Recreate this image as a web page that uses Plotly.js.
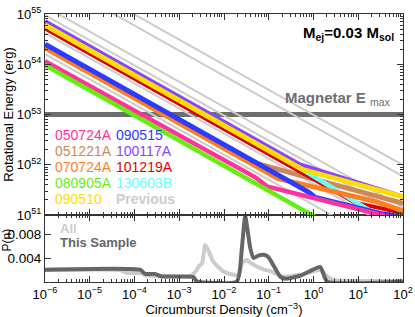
<!DOCTYPE html>
<html><head><meta charset="utf-8">
<script src="https://cdn.plot.ly/plotly-3.0.1.min.js"></script>
<style>html,body{margin:0;padding:0;background:#fff}#chart{width:415px;height:317px}</style>
</head><body><div id="chart"></div>
<script>
// ---- Top panel: rotational energy vs circumburst density (log10 values) ----
const grayLogN = [-6, 2];
const grayStartLogE = [55.99, 55.77, 55.15, 54.98, 54.62, 54.20];
const grayEndLogE   = [51.99, 51.77, 51.15, 50.98, 50.62, 50.20];

const n050724A = [-6, -1.30, -1.04, 1.42, 1.75];
const e050724A = [54.06, 51.75, 51.57, 51.03, 50.95];
const n051221A = [-6, -1.50, 2.0];
const e051221A = [54.33, 52.08, 51.23];
const n070724A = [-6, -0.79, 0.15, 1.42, 2.0];
const e070724A = [54.33, 51.725, 51.53, 51.26, 51.08];
const n080905A = [-6, 0.2];
const e080905A = [53.98, 50.88];
const n090510 = [-6, -0.25, 2.0];
const e090510 = [54.78, 51.905, 51.36];
const n090515 = [-6, -0.12, 0.04, 1.49, 1.9];
const e090515 = [54.40, 51.46, 51.35, 51.03, 50.97];
const n100117A = [-6, -0.30, 2.0];
const e100117A = [54.85, 52.00, 51.36];
const n101219A = [-6, 0.93, 2.0];
const e101219A = [54.71, 51.245, 51.04];
const n130603B = [-6, -0.25, 1.42, 1.6];
const e130603B = [54.78, 51.905, 51.0, 50.9];

const magnetarLogN = [-6, 2];
const magnetarLogE = [53, 53];

// ---- Bottom panel: P(n) ----
const allLogN = [-6, -4.32, -4.17, -3.85, -3.75, -2.76, -2.64, -2.555, -2.49, -2.42, -2.35, -2.24, -2.02, -1.79, -1.68, -1.59, -1.50, -1.37, -1.12, -0.92, -0.70, -0.30, 0.15, 0.31, 0.49, 2.0];
const allP    = [0.0020, 0.0020, 0.0015, 0.0015, 0.0011, 0.0010, 0.0017, 0.0027, 0.0031, 0.0062, 0.0053, 0.0034, 0.0018, 0.0012, 0.0011, 0.0032, 0.0037, 0.0030, 0.0021, 0.0017, 0.0009, 0.0012, 0.0020, 0.0009, 0.0003, 0.0002];
const sampleLogN = [-6, -3.875, -3.763, -3.539, -3.389, -2.682, -2.606, -1.711, -1.60, -1.526, -1.414, -1.34, -1.235, -1.116, -1.01, -0.743, -0.631, -0.295, 0.152, 0.302, 2.0];
const sampleP    = [0.00205, 0.00205, 0.00135, 0.00135, 0.00093, 0.00083, 0.0001, 0.0001, 0.0057, 0.0110, 0.0057, 0.0040, 0.0044, 0.00455, 0.0042, 0.0009, 0.00055, 0.00105, 0.0025, 0.0001, 0.0001];

const xTickExp = [-6, -5, -4, -3, -2, -1, 0, 1, 2];
const yTickExp = [51, 52, 53, 54, 55];
const pTicks = [0.004, 0.008];
const pTickText = ['0.004', '0.008'];

const legendNames = ['050724A','090515','051221A','100117A','070724A','101219A','080905A','130603B','090510','Previous'];

const pw = v => Math.pow(10, v);
const sup = e => '10<sup>' + (e < 0 ? '\u2212' + (-e) : e) + '</sup>';

const traces = [];
function addTop(nArr, eArr, color, width) {
  traces.push({x: nArr.map(pw), y: eArr.map(pw), xaxis: 'x2', yaxis: 'y2', mode: 'lines',
    line: {color: color, width: width}, hoverinfo: 'skip', showlegend: false});
}
addTop(magnetarLogN, magnetarLogE, '#6e6e6e', 5);
for (let i = 0; i < grayStartLogE.length; i++) addTop(grayLogN, [grayStartLogE[i], grayEndLogE[i]], '#cccccc', 2);
addTop(n051221A, e051221A, '#cc8a5c', 5);
addTop(n100117A, e100117A, '#8844ff', 4.5);
addTop(n101219A, e101219A, '#dd0000', 4);
addTop(n130603B, e130603B, '#66ffff', 4.5);
addTop(n090510, e090510, '#ffdd00', 5);
addTop(n070724A, e070724A, '#ff7f1e', 5);
addTop(n090515, e090515, '#2b3bff', 5);
addTop(n050724A, e050724A, '#ff3399', 4.5);
addTop(n080905A, e080905A, '#66ee11', 4.5);

traces.push({x: allLogN.map(pw), y: allP, xaxis: 'x', yaxis: 'y', mode: 'lines',
  line: {color: '#cccccc', width: 4, shape: 'spline', smoothing: 0.5}, hoverinfo: 'skip', showlegend: false});
traces.push({x: sampleLogN.map(pw), y: sampleP, xaxis: 'x', yaxis: 'y', mode: 'lines',
  line: {color: '#666666', width: 4, shape: 'spline', smoothing: 0.5}, hoverinfo: 'skip', showlegend: false});

const minorX = [];
for (let d = -6; d < 2; d++) for (let k = 2; k <= 9; k++) minorX.push(k * Math.pow(10, d));
const minorY = [];
for (let d = 51; d < 55; d++) for (let k = 2; k <= 9; k++) minorY.push(k * Math.pow(10, d));

const FAM = 'Liberation Sans, Arial, sans-serif';
const axFont = {family: FAM, size: 13, color: '#000'};
const common = {showline: true, linecolor: '#333', linewidth: 1, mirror: 'allticks', ticks: 'inside',
  ticklen: 6, tickcolor: '#333', showgrid: false, zeroline: false};

const legendColors = ['#ff3399','#2b3bff','#cc8a5c','#8844ff','#ff7f1e','#dd0000','#66ee11','#66ffff','#ffdd00','#cccccc'];
const annotations = [];
const lx = [53, 114], ly = [135, 151, 167, 183, 199];
legendNames.forEach((nm, i) => {
  const px = lx[i % 2], py = ly[Math.floor(i / 2)];
  annotations.push({xref: 'paper', yref: 'paper', x: (px - 45) / 358, y: (282 - py) / 268,
    xanchor: 'left', yanchor: 'middle', showarrow: false,
    text: nm === 'Previous' ? '<b>' + nm + '</b>' : nm,
    font: {family: FAM, size: 14, color: legendColors[i]}});
});
annotations.push({xref: 'paper', yref: 'paper', x: (283 - 45) / 358, y: (282 - 98) / 268, xanchor: 'left', yanchor: 'middle', showarrow: false,
  text: '<b>Magnetar E</b> <sub>max</sub>', font: {family: FAM, size: 15, color: '#6e6e6e'}});
annotations.push({xref: 'paper', yref: 'paper', x: (396 - 45) / 358, y: (282 - 33) / 268, xanchor: 'right', yanchor: 'middle', showarrow: false,
  text: '<b>M<sub>ej</sub>=0.03 M<sub>sol</sub></b>', font: {family: FAM, size: 15, color: '#000'}});
annotations.push({xref: 'paper', yref: 'paper', x: (58 - 45) / 358, y: (282 - 228) / 268, xanchor: 'left', yanchor: 'middle', showarrow: false,
  text: '<b>All</b>', font: {family: FAM, size: 13, color: '#cccccc'}});
annotations.push({xref: 'paper', yref: 'paper', x: (58 - 45) / 358, y: (282 - 242) / 268, xanchor: 'left', yanchor: 'middle', showarrow: false,
  text: '<b>This Sample</b>', font: {family: FAM, size: 13, color: '#666666'}});
annotations.push({xref: 'paper', yref: 'paper', x: (6.5 - 45) / 358, y: (282 - 240) / 268, xanchor: 'center', yanchor: 'middle', showarrow: false,
  textangle: -90, borderpad: 0, text: 'P(n)', font: {family: FAM, size: 12, color: '#000'}});

const layout = {
  width: 415, height: 317, margin: {l: 45, r: 12, t: 14, b: 35},
  paper_bgcolor: '#fff', plot_bgcolor: '#fff', showlegend: false,
  font: axFont,
  xaxis: Object.assign({}, common, {domain: [0, 1], anchor: 'y', type: 'log', range: [-6, 2],
    tickmode: 'array', tickvals: xTickExp.map(pw), ticktext: xTickExp.map(sup), tickfont: axFont,
    minor: {tickmode: 'array', tickvals: minorX, ticks: 'inside', ticklen: 3, tickcolor: '#333', showgrid: false},
    title: {text: 'Circumburst Density (cm<sup>\u22123</sup>)', font: axFont, standoff: 0}}),
  xaxis2: Object.assign({}, common, {domain: [0, 1], anchor: 'y2', type: 'log', range: [-6, 2], matches: 'x',
    tickmode: 'array', tickvals: xTickExp.map(pw), showticklabels: false,
    minor: {tickmode: 'array', tickvals: minorX, ticks: 'inside', ticklen: 3, tickcolor: '#333', showgrid: false}}),
  yaxis: Object.assign({}, common, {domain: [0, 0.25], anchor: 'x', range: [0, 0.0112],
    tickmode: 'array', tickvals: pTicks, ticktext: pTickText, tickfont: {family: FAM, size: 13.5, color: '#000'}}),
  yaxis2: Object.assign({}, common, {domain: [0.25, 1], anchor: 'x2', type: 'log', range: [51, 55],
    tickmode: 'array', tickvals: yTickExp.map(pw), ticktext: yTickExp.map(sup), tickfont: axFont,
    minor: {tickmode: 'array', tickvals: minorY, ticks: 'inside', ticklen: 3, tickcolor: '#333', showgrid: false}}),
  annotations: annotations
};
layout.yaxis2.title = {text: 'Rotational Energy (erg)', font: axFont, standoff: 0};
Plotly.newPlot('chart', traces, layout, {staticPlot: true, displayModeBar: false});
</script></body></html>
